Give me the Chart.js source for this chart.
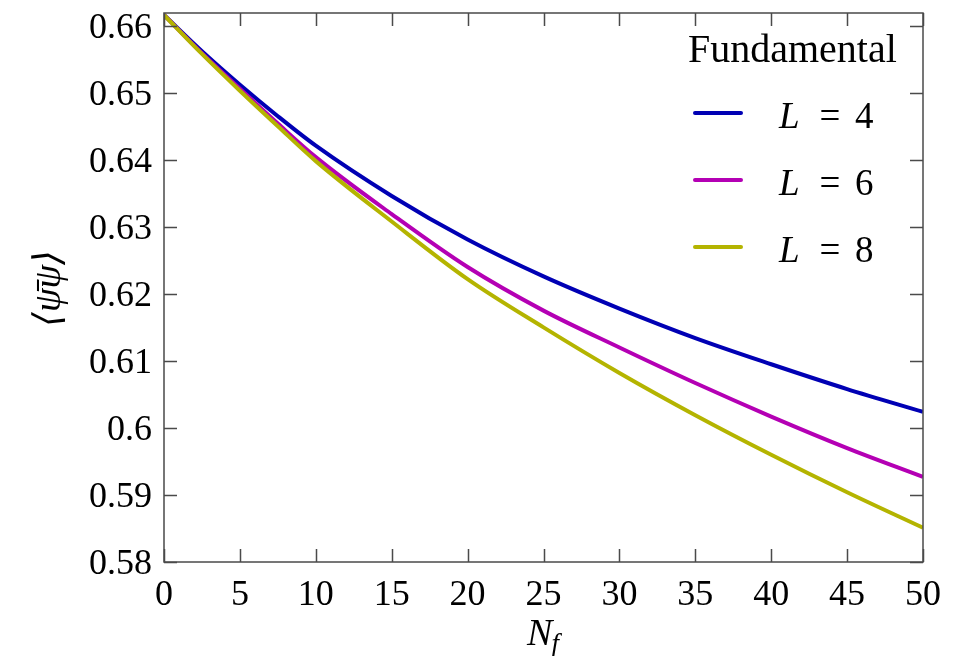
<!DOCTYPE html>
<html>
<head>
<meta charset="utf-8">
<script src="https://cdn.jsdelivr.net/npm/chart.js@4/dist/chart.umd.min.js"></script>
<style>
  html, body { margin: 0; padding: 0; background: #ffffff; }
  #wrap { width: 957px; height: 656px; position: relative; }
</style>
</head>
<body>
<div id="wrap"><canvas id="c" width="957" height="656"></canvas></div>
<script>
// ---- data ----
const nf = [0, 2.5, 5, 7.5, 10, 15, 20, 25, 30, 35, 40, 45, 50];
const seriesL4 = [0.6616, 0.6562, 0.6512, 0.6465, 0.6421, 0.6346, 0.6281, 0.6226, 0.6178, 0.6134, 0.6095, 0.6058, 0.6024];
const seriesL6 = [0.6616, 0.6559, 0.6506, 0.6454, 0.6404, 0.6319, 0.6240, 0.6175, 0.6120, 0.6067, 0.6017, 0.5970, 0.5927];
const seriesL8 = [0.6616, 0.6558, 0.6503, 0.6450, 0.6398, 0.6308, 0.6222, 0.6150, 0.6082, 0.6019, 0.5960, 0.5904, 0.5851];
const seriesNames = ['L = 4', 'L = 6', 'L = 8'];
const seriesColors = ['rgb(0,0,180)', 'rgb(180,0,180)', 'rgb(180,180,0)'];
const legendTitle = 'Fundamental';
const xTicks = [0, 5, 10, 15, 20, 25, 30, 35, 40, 45, 50];
const yTicks = [0.58, 0.59, 0.60, 0.61, 0.62, 0.63, 0.64, 0.65, 0.66];
const xRange = [0, 50];
const yRange = [0.58, 0.6619];
const xTitleMain = 'N';
const xTitleSub = 'f';
const yTitle = '\u27E8\u03C8\u0304\u03C8\u27E9';

const SERIF = '"Liberation Serif", "DejaVu Serif", serif';
const FRAME = '#4a4a4a';

function toPoints(ys) { return nf.map((x, i) => ({ x: x, y: ys[i] })); }

const allSeries = [seriesL4, seriesL6, seriesL8];
const datasets = allSeries.map((s, i) => ({
  label: seriesNames[i],
  data: toPoints(s),
  borderColor: seriesColors[i],
  backgroundColor: seriesColors[i],
  borderWidth: 4,
  pointRadius: 0,
  fill: false,
  cubicInterpolationMode: 'monotone',
  order: 3 - i
}));

const framePlugin = {
  id: 'frameAndDecor',
  afterDatasetsDraw(chart) {
    const ctx = chart.ctx;
    const a = chart.chartArea;
    const xs = chart.scales.x, ys = chart.scales.y;
    ctx.save();
    // frame
    ctx.strokeStyle = FRAME;
    ctx.lineWidth = 1.5;
    ctx.strokeRect(a.left, a.top, a.right - a.left, a.bottom - a.top);
    // inward ticks
    const tl = 13;
    ctx.beginPath();
    xTicks.forEach(v => {
      const px = Math.round(xs.getPixelForValue(v)) + 0.5;
      ctx.moveTo(px, a.bottom); ctx.lineTo(px, a.bottom - tl);
      ctx.moveTo(px, a.top); ctx.lineTo(px, a.top + tl);
    });
    yTicks.forEach(v => {
      const py = Math.round(ys.getPixelForValue(v)) + 0.5;
      ctx.moveTo(a.left, py); ctx.lineTo(a.left + tl, py);
      ctx.moveTo(a.right, py); ctx.lineTo(a.right - tl, py);
    });
    ctx.stroke();

    // legend (drawn from dataset labels/colors)
    ctx.fillStyle = '#000';
    ctx.textBaseline = 'alphabetic';
    ctx.textAlign = 'left';
    ctx.font = '40px ' + SERIF;
    ctx.fillText(legendTitle, 688, 62);
    chart.data.datasets.forEach((ds, i) => {
      const y = 113 + i * 67;
      ctx.strokeStyle = ds.borderColor;
      ctx.lineWidth = 4;
      ctx.lineCap = 'round';
      ctx.beginPath();
      ctx.moveTo(695, y); ctx.lineTo(741, y);
      ctx.stroke();
      const parts = ds.label.split(' = ');
      ctx.fillStyle = '#000';
      ctx.font = 'italic 37px ' + SERIF;
      ctx.textAlign = 'left';
      ctx.fillText(parts[0], 779, y + 15);
      ctx.font = '37px ' + SERIF;
      ctx.textAlign = 'center';
      ctx.fillText('=', 830, y + 15);
      ctx.textAlign = 'left';
      ctx.fillText(parts[1], 855, y + 15);
    });

    // x title N_f
    const cx = (a.left + a.right) / 2;
    ctx.fillStyle = '#000';
    ctx.font = 'italic 38px ' + SERIF;
    const wN = ctx.measureText(xTitleMain).width;
    ctx.font = 'italic 27px ' + SERIF;
    const wf = ctx.measureText(xTitleSub).width;
    const startX = cx - (wN + wf) / 2;
    ctx.font = 'italic 38px ' + SERIF;
    ctx.textAlign = 'left';
    ctx.fillText(xTitleMain, startX, 645);
    ctx.font = 'italic 27px ' + SERIF;
    ctx.fillText(xTitleSub, startX + wN - 1, 652);

    // y title
    ctx.save();
    ctx.translate(50, (a.top + a.bottom) / 2 + 1);
    ctx.rotate(-Math.PI / 2);
    ctx.font = 'italic 38px ' + SERIF;
    ctx.textAlign = 'center';
    ctx.textBaseline = 'middle';
    ctx.fillText(yTitle, 0, 0);
    ctx.restore();

    ctx.restore();
  }
};

new Chart(document.getElementById('c'), {
  type: 'line',
  data: { datasets: datasets },
  options: {
    responsive: false,
    animation: false,
    events: [],
    layout: { padding: { top: 13, right: 34, left: 0, bottom: 0 } },
    plugins: { legend: { display: false }, tooltip: { enabled: false }, title: { display: false } },
    scales: {
      x: {
        type: 'linear',
        min: xRange[0], max: xRange[1],
        grid: { display: false, drawTicks: false },
        border: { display: false },
        afterBuildTicks: s => { s.ticks = xTicks.map(v => ({ value: v })); },
        afterFit: s => { s.height = 94; s.paddingLeft = 0; s.paddingRight = 0; },
        ticks: {
          padding: 12,
          color: '#000',
          maxRotation: 0,
          autoSkip: false,
          font: { family: SERIF, size: 36 },
          callback: v => String(v)
        }
      },
      y: {
        type: 'linear',
        min: yRange[0], max: yRange[1],
        grid: { display: false, drawTicks: false },
        border: { display: false },
        afterBuildTicks: s => { s.ticks = yTicks.map(v => ({ value: v })); },
        afterFit: s => { s.width = 164; s.paddingTop = 0; s.paddingBottom = 0; },
        ticks: {
          padding: 12,
          labelOffset: 3,
          color: '#000',
          autoSkip: false,
          font: { family: SERIF, size: 36 },
          callback: v => String(parseFloat(Number(v).toFixed(2)))
        }
      }
    }
  },
  plugins: [framePlugin]
});
</script>
</body>
</html>
